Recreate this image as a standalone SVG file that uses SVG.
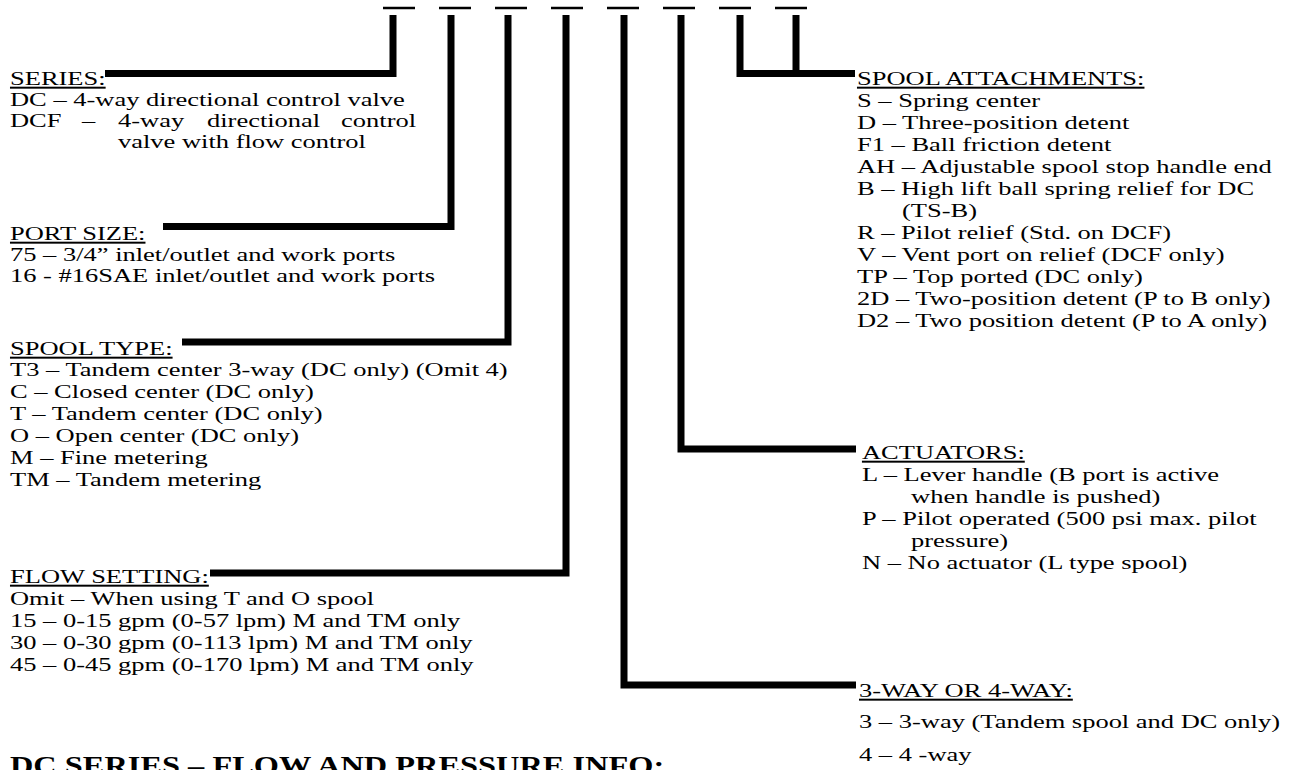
<svg xmlns="http://www.w3.org/2000/svg" width="1308" height="770" viewBox="0 0 1308 770">
<style>
  .t { font-family: "Liberation Serif", "Times New Roman", serif; font-size: 19.8px; fill: #000; }
  .u { text-decoration: underline; }
  .h { font-family: "Liberation Serif", "Times New Roman", serif; font-size: 24.2px; font-weight: bold; fill: #000; }
  .c { fill: none; stroke: #000; stroke-width: 7; stroke-linejoin: miter; stroke-linecap: butt; }
  .d { stroke: #000; stroke-width: 2.5; }
</style>
<rect width="1308" height="770" fill="#fff"/>
<g id="blanks">
  <line class="d" x1="383" y1="8" x2="415" y2="8"/>
  <line class="d" x1="439" y1="8" x2="471" y2="8"/>
  <line class="d" x1="495" y1="8" x2="527" y2="8"/>
  <line class="d" x1="551" y1="8" x2="583" y2="8"/>
  <line class="d" x1="607" y1="8" x2="639" y2="8"/>
  <line class="d" x1="663" y1="8" x2="695" y2="8"/>
  <line class="d" x1="719" y1="8" x2="751" y2="8"/>
  <line class="d" x1="775" y1="8" x2="807" y2="8"/>
</g>
<g id="connectors">
  <polyline class="c" points="393,15 393,73.5 105,73.5"/>
  <polyline class="c" points="451,15 451,226.5 163,226.5"/>
  <polyline class="c" points="508,15 508,342 182,342"/>
  <polyline class="c" points="566,15 566,573 210,573"/>
  <polyline class="c" points="624,15 624,685 856,685"/>
  <polyline class="c" points="681,15 681,449 856,449"/>
  <polyline class="c" points="740,15 740,73.5 855,73.5"/>
  <line class="c" x1="796" y1="15" x2="796" y2="73.5"/>
</g>
<g transform="scale(1.338 1)">
<g id="series">
  <text class="t u" x="7.47" y="85">SERIES:</text>
  <text class="t" x="7.47" y="106">DC – 4-way directional control valve</text>
  <text class="t" y="127"><tspan x="7.47">DCF</tspan><tspan x="61.3">–</tspan><tspan x="88.2">4-way</tspan><tspan x="154.7">directional</tspan><tspan x="254.9">control</tspan></text>
  <text class="t" x="88.2" y="148">valve with flow control</text>
</g>
<g id="port-size">
  <text class="t u" x="7.47" y="240">PORT SIZE:</text>
  <text class="t" x="7.47" y="261">75 – 3/4” inlet/outlet and work ports</text>
  <text class="t" x="7.47" y="282">16 - #16SAE inlet/outlet and work ports</text>
</g>
<g id="spool-type">
  <text class="t u" x="7.47" y="355">SPOOL TYPE:</text>
  <text class="t" x="7.47" y="376">T3 – Tandem center 3-way (DC only) (Omit 4)</text>
  <text class="t" x="7.47" y="398">C – Closed center (DC only)</text>
  <text class="t" x="7.47" y="420">T – Tandem center (DC only)</text>
  <text class="t" x="7.47" y="442">O – Open center (DC only)</text>
  <text class="t" x="7.47" y="464">M – Fine metering</text>
  <text class="t" x="7.47" y="486">TM – Tandem metering</text>
</g>
<g id="flow-setting">
  <text class="t u" x="7.47" y="583">FLOW SETTING:</text>
  <text class="t" x="7.47" y="605">Omit – When using T and O spool</text>
  <text class="t" x="7.47" y="627">15 – 0-15 gpm (0-57 lpm) M and TM only</text>
  <text class="t" x="7.47" y="649">30 – 0-30 gpm (0-113 lpm) M and TM only</text>
  <text class="t" x="7.47" y="671">45 – 0-45 gpm (0-170 lpm) M and TM only</text>
</g>
<g id="heading">
  <text class="h" x="7.47" y="774">DC SERIES – FLOW AND PRESSURE INFO:</text>
</g>
<g id="spool-attachments">
  <text class="t u" x="640.5" y="85">SPOOL ATTACHMENTS:</text>
  <text class="t" x="640.5" y="107">S – Spring center</text>
  <text class="t" x="640.5" y="129">D – Three-position detent</text>
  <text class="t" x="640.5" y="151">F1 – Ball friction detent</text>
  <text class="t" x="640.5" y="173">AH – Adjustable spool stop handle end</text>
  <text class="t" x="640.5" y="195">B – High lift ball spring relief for DC</text>
  <text class="t" x="674.1" y="217">(TS-B)</text>
  <text class="t" x="640.5" y="239">R – Pilot relief (Std. on DCF)</text>
  <text class="t" x="640.5" y="261">V – Vent port on relief (DCF only)</text>
  <text class="t" x="640.5" y="283">TP – Top ported (DC only)</text>
  <text class="t" x="640.5" y="305">2D – Two-position detent (P to B only)</text>
  <text class="t" x="640.5" y="327">D2 – Two position detent (P to A only)</text>
</g>
<g id="actuators">
  <text class="t u" x="644.2" y="459">ACTUATORS:</text>
  <text class="t" x="644.2" y="481">L – Lever handle (B port is active</text>
  <text class="t" x="680.9" y="503">when handle is pushed)</text>
  <text class="t" x="644.2" y="525">P – Pilot operated (500 psi max. pilot</text>
  <text class="t" x="680.9" y="547">pressure)</text>
  <text class="t" x="644.2" y="569">N – No actuator (L type spool)</text>
</g>
<g id="three-four-way">
  <text class="t u" x="642" y="697">3-WAY OR 4-WAY:</text>
  <text class="t" x="642" y="728">3 – 3-way (Tandem spool and DC only)</text>
  <text class="t" x="642" y="761">4 – 4 -way</text>
</g>
</g>
</svg>
